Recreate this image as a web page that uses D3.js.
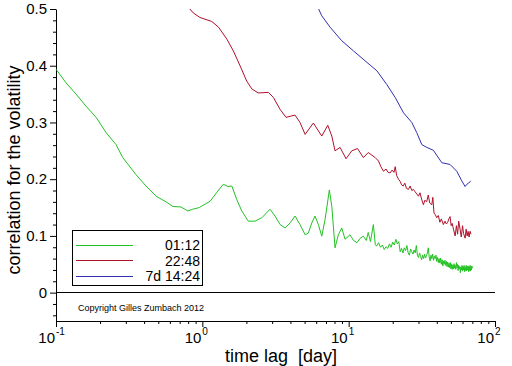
<!DOCTYPE html>
<html><head><meta charset="utf-8">
<script src="https://cdn.jsdelivr.net/npm/d3@7"></script>
<style>
html,body{margin:0;padding:0;background:#fff;}
svg{display:block;font-family:"Liberation Sans",Arial,sans-serif;}
</style></head>
<body><svg id="c" width="512" height="366"></svg>
<script>
// ---- data ----
const seriesNames = ["01:12", "22:48", "7d 14:24"];
const seriesColors = ["#22c222", "#b0102a", "#3030b0"];

const greenX = [0.100,0.117,0.137,0.160,0.188,0.220,0.257,0.286,0.352,0.412,0.483,0.565,0.628,0.715,0.795,0.860,0.954,1.06,1.13,1.25,1.39,1.50,1.59,1.72,1.86,2.06,2.29,2.55,2.90,3.14,3.40,3.68,3.98,4.30,4.65,5.04,5.30,5.60,5.89,6.21,6.55,6.90,7.38,7.67,8.07,8.50,8.97,9.45,10.2,10.8,11.4,12.0,12.6,13.2,13.6,14.1,14.75,15.2,15.5,16,16.5,17,17.5,18,18.5,19,19.5,20,20.5,21,21.5,22,22.5,23,23.5,24,24.5,
  25,25.5,26,26.5,27,27.5,28,28.5,29,29.5,30,30.5,31,31.5,32,32.5,33,33.5,34,34.5,35,35.5,36,36.5,37,37.5,38,38.5,39,39.5,40,40.5,41,41.5,42,42.5,43,43.5,44,44.5,45,45.5,46,46.5,47,47.5,48,48.5,49,49.5,50,50.5,51,51.5,52,52.5,53,53.5,54,54.5,55,55.5,56,56.5,57,57.5,58,58.5,59,59.5,60,60.5,61,61.5,62,62.5,63,63.5,64,64.5,65,65.5,66,66.5,67,67.5,68,68.5,69,69.5,70];
const greenY = [0.394,0.370,0.350,0.329,0.309,0.282,0.261,0.238,0.208,0.188,0.170,0.160,0.152,0.151,0.144,0.147,0.150,0.157,0.161,0.176,0.191,0.187,0.188,0.164,0.144,0.126,0.126,0.132,0.147,0.135,0.120,0.114,0.123,0.135,0.120,0.102,0.105,0.123,0.135,0.120,0.0995,0.129,0.181,0.152,0.079,0.102,0.114,0.094,0.102,0.092,0.088,0.096,0.0995,0.092,0.106,0.090,0.120,0.085,0.082,0.088,0.080,0.084,0.076,0.081,0.078,0.086,0.080,0.089,0.084,0.094,0.086,0.090,0.072,0.078,0.070,0.079,0.074,
  0.083,0.070,0.066,0.077,0.072,0.068,0.075,0.070,0.083,0.066,0.062,0.070,0.064,0.058,0.066,0.060,0.068,0.061,0.065,0.070,0.079,0.063,0.056,0.066,0.060,0.068,0.057,0.064,0.060,0.066,0.055,0.062,0.053,0.060,0.052,0.061,0.050,0.058,0.047,0.056,0.050,0.057,0.048,0.055,0.046,0.054,0.045,0.052,0.044,0.053,0.042,0.050,0.041,0.049,0.042,0.051,0.043,0.048,0.041,0.053,0.044,0.050,0.039,0.048,0.042,0.046,0.035,0.045,0.040,0.048,0.038,0.046,0.040,0.048,0.037,0.045,0.039,0.048,0.038,0.046,0.040,0.047,0.037,0.046,0.039,0.048,0.038,0.046,0.040,0.047,0.043];

const redX = [0.790,0.868,0.964,1.16,1.29,1.47,1.63,1.81,2.01,2.18,2.41,2.83,3.06,3.40,3.73,4.30,4.65,5.04,5.74,6.55,7.20,7.67,8.07,8.73,9.60,10.5,11.5,12.6,13.6,15.2,16.0,16.6,17.3,18.0,18.6,19.2,19.8,20.4,20.8,21.3,21.9,22.5,23.0,23.6,24.2,24.8,25.6,26.3,27.0,27.7,28.4,29.2,30.0,30.7,31.5,32.4,33.2,34.1,35.0,35.8,37.0,37.6,38.3,39.0,40.0,41.0,42.0,43.0,44.4,45.5,46.5,47.5,48.4,49.3,50.2,51.0,52.0,53.4,54.5,55.5,56.5,57.7,58.8,60.0,61.0,62.5,63.5,64.5,65.5,66.5,67.6,68.5];
const redY = [0.505,0.493,0.485,0.478,0.468,0.447,0.426,0.400,0.373,0.359,0.352,0.353,0.344,0.323,0.309,0.313,0.300,0.279,0.299,0.276,0.295,0.276,0.250,0.256,0.236,0.250,0.254,0.238,0.247,0.238,0.232,0.222,0.214,0.218,0.212,0.211,0.216,0.212,0.222,0.206,0.200,0.196,0.190,0.188,0.193,0.184,0.182,0.188,0.180,0.182,0.178,0.174,0.170,0.176,0.165,0.155,0.163,0.160,0.172,0.158,0.155,0.168,0.140,0.138,0.132,0.136,0.124,0.130,0.120,0.126,0.121,0.124,0.130,0.134,0.118,0.122,0.112,0.100,0.118,0.103,0.126,0.112,0.098,0.118,0.104,0.096,0.112,0.100,0.108,0.098,0.108,0.103];

const blueX = [6.11,6.55,7.46,8.97,10.8,12.9,15.6,18.2,20.8,23.7,27.0,29.2,31.6,34.2,37.9,43.3,49.3,54.8,59.3,62.5,64.2,66.0,68.3];
const blueY = [0.505,0.488,0.468,0.444,0.426,0.409,0.391,0.367,0.344,0.317,0.300,0.282,0.261,0.256,0.251,0.229,0.226,0.214,0.197,0.187,0.191,0.193,0.197];

const yMajor = [0, 0.1, 0.2, 0.3, 0.4, 0.5];
const yLabels = ["0", "0.1", "0.2", "0.3", "0.4", "0.5"];
const yMinor = [-0.04,-0.02,0.02,0.04,0.06,0.08,0.12,0.14,0.16,0.18,0.22,0.24,0.26,0.28,0.32,0.34,0.36,0.38,0.42,0.44,0.46,0.48];
const xMajor = [0.1, 1, 10, 100];
const xExp = ["-1", "0", "1", "2"];
const xMinor = [0.2,0.3,0.4,0.5,0.6,0.7,0.8,0.9,2,3,4,5,6,7,8,9,20,30,40,50,60,70,80,90];

// ---- chart ----
const svg = d3.select("#c");
const x = d3.scaleLog().domain([0.1, 100]).range([56, 495]);
const y = d3.scaleLinear().domain([-0.05, 0.5]).range([321, 9]);

svg.append("clipPath").attr("id","clip").append("rect")
  .attr("x",56).attr("y",y(0.5)).attr("width",439).attr("height",y(-0.05)-y(0.5));

// y axis
const yAx = svg.append("g").attr("transform","translate(56,0)")
  .call(d3.axisLeft(y).tickValues(yMajor).tickSize(6).tickSizeOuter(0).tickPadding(3)
    .tickFormat((d,i)=>yLabels[i]));
yAx.selectAll("text").attr("font-size",15).attr("font-family","Liberation Sans, Arial, sans-serif").attr("fill","#000");
yAx.select(".domain").attr("stroke","#000");
svg.append("g").attr("transform","translate(56,0)")
  .call(d3.axisLeft(y).tickValues(yMinor).tickSize(3).tickSizeOuter(0).tickFormat(""))
  .select(".domain").remove();

// x axis
const xAx = svg.append("g").attr("transform","translate(0,321)")
  .call(d3.axisBottom(x).tickValues(xMajor).tickSize(6).tickSizeOuter(0).tickFormat(""));
xAx.select(".domain").attr("stroke","#000");
svg.append("g").attr("transform","translate(0,321)")
  .call(d3.axisBottom(x).tickValues(xMinor).tickSize(3).tickSizeOuter(0).tickFormat(""))
  .select(".domain").remove();

const xl = svg.append("g").attr("font-size",15).attr("fill","#000");
xMajor.forEach((v,i)=>{
  xl.append("text").attr("x", x(v)-1).attr("y",343).attr("text-anchor","end").text("10");
  xl.append("text").attr("x", x(v)).attr("y",335).attr("font-size",10).text(xExp[i]);
});

// zero line
svg.append("line").attr("x1",56).attr("x2",495).attr("y1",y(0)).attr("y2",y(0))
  .attr("stroke","#000").attr("shape-rendering","crispEdges");

// series
const line = d3.line().x(d=>x(d[0])).y(d=>y(d[1]));
const data = [d3.zip(greenX, greenY), d3.zip(redX, redY), d3.zip(blueX, blueY)];
svg.append("g").attr("clip-path","url(#clip)").selectAll("path").data(data).join("path")
  .attr("d", line).attr("fill","none").attr("stroke",(d,i)=>seriesColors[i]).attr("stroke-width",1);

// titles
svg.append("text").attr("transform","translate(20,170) rotate(-90)").attr("text-anchor","middle")
  .attr("font-size",18).attr("fill","#000").text("correlation for the volatility");
svg.append("text").attr("x",281).attr("y",362).attr("text-anchor","middle")
  .attr("font-size",18).attr("fill","#000").attr("xml:space","preserve").text("time lag  [day]");

// legend
const lg = svg.append("g");
lg.append("rect").attr("x",72.5).attr("y",230.5).attr("width",130).attr("height",55)
  .attr("fill","#fff").attr("stroke","#000");
seriesNames.forEach((n,i)=>{
  const yy = 245 + i*15.7;
  lg.append("line").attr("x1",76).attr("x2",133).attr("y1",yy).attr("y2",yy)
    .attr("stroke",seriesColors[i]).attr("shape-rendering","crispEdges");
  lg.append("text").attr("x",200).attr("y",yy+5).attr("text-anchor","end")
    .attr("font-size",14).attr("fill","#000").attr("xml:space","preserve").text(n);
});

// copyright
svg.append("text").attr("x",78).attr("y",311).attr("font-size",9).attr("fill","#000")
  .text("Copyright Gilles Zumbach 2012");
</script>
</body></html>
